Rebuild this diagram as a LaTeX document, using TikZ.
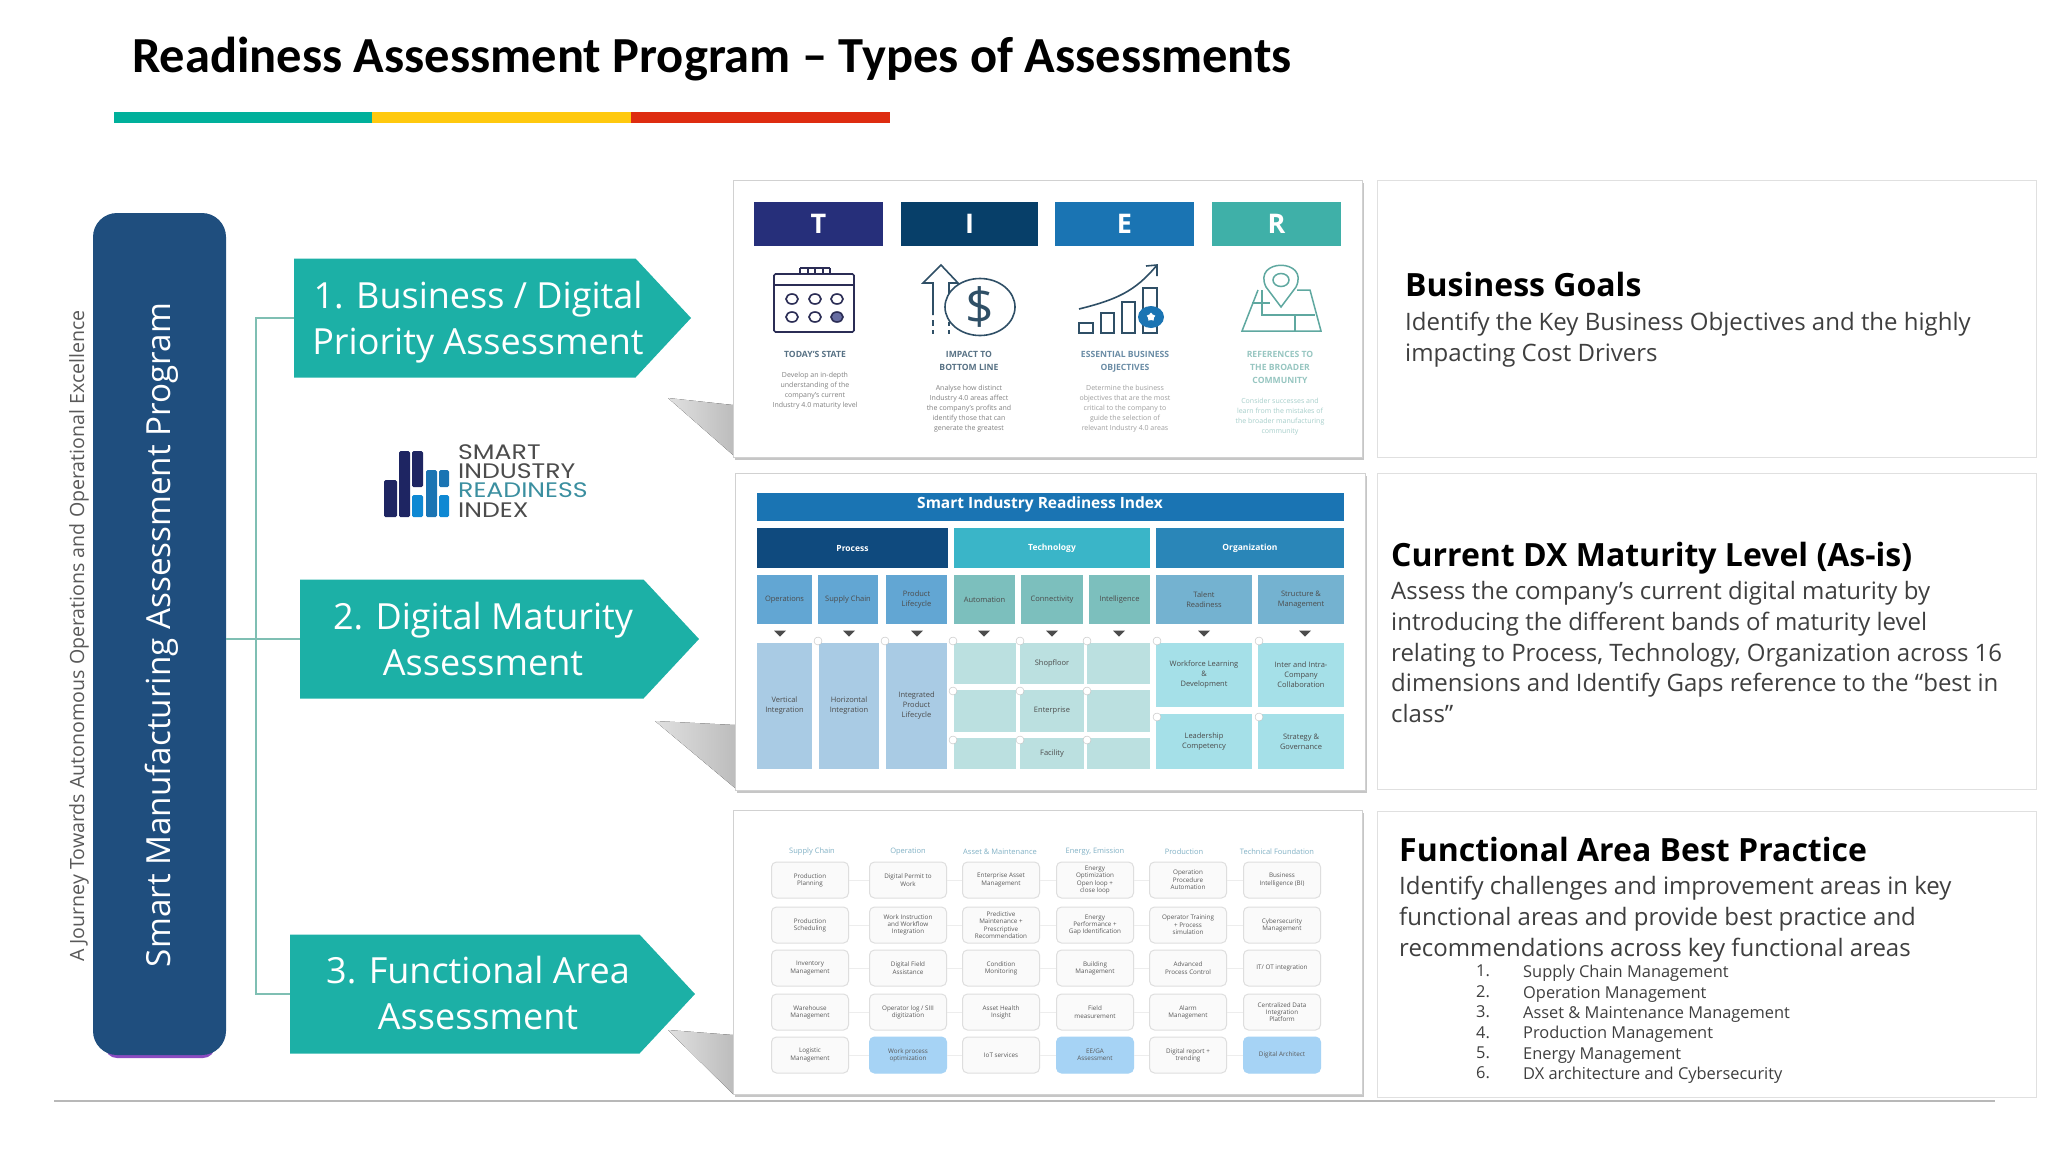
\documentclass[tikz,border=0pt]{standalone}
\usepackage{fontspec}
\setmainfont{Open Sans}
\newfontfamily\titlefont{Carlito}
\newfontfamily\logofont[FakeStretch=1.2]{Poppins}
\usetikzlibrary{shapes.symbols,shapes.geometric,shadows}

\definecolor{teala}{HTML}{1CB0A6}
\definecolor{linkgreen}{HTML}{7FBFB3}
\definecolor{navyprog}{HTML}{1F4E7E}
\definecolor{inkgray}{HTML}{3F3F3F}
\definecolor{tierT}{HTML}{262F7A}
\definecolor{tierI}{HTML}{073F69}
\definecolor{tierE}{HTML}{1A74B3}
\definecolor{tierR}{HTML}{3FB0A8}
\definecolor{iconnavy}{HTML}{2B2D55}
\definecolor{icondark}{HTML}{2F4F66}
\definecolor{iconteal}{HTML}{5FA8A0}
\definecolor{boxblue}{HTML}{A6D3F5}
\definecolor{barteal}{HTML}{00B09B}
\definecolor{baryellow}{HTML}{FFC90E}
\definecolor{barred}{HTML}{DE2C10}
\definecolor{headproc}{HTML}{0F4A7E}
\definecolor{headtech}{HTML}{3AB5C8}
\definecolor{headorg}{HTML}{2A86B8}
\definecolor{dimproc}{HTML}{62A6D3}
\definecolor{dimtech}{HTML}{7CBFBD}
\definecolor{dimorg}{HTML}{74B2D0}
\definecolor{lowproc}{HTML}{A9CBE4}
\definecolor{lowtech}{HTML}{BBE0E0}
\definecolor{loworg}{HTML}{A5E0E8}
\definecolor{logoteal}{HTML}{3B8FA0}

\tikzset{
    tile/.style 2 args={anchor=north west,inner sep=0pt,outer sep=0pt,minimum width=#1,minimum height=#2,align=center},
    panel/.style={fill=white,draw=black!18,line width=1pt,drop shadow={shadow xshift=1.5pt,shadow yshift=-2.5pt,opacity=0.45}},
    notepanel/.style={fill=white,draw=black!12,line width=1pt},
    wedge/.style={left color=black!12,right color=black!26,draw=none},
    assessarrow/.style={signal,signal to=east,signal pointer angle=94,fill=teala,anchor=west,inner sep=0pt,outer sep=0pt,minimum width=#1,minimum height=119pt},
    arrowtext/.style={text=white,inner sep=0pt,align=center,font=\fontsize{36}{46}\selectfont},
    linkline/.style={draw=linkgreen,line width=1.5pt},
    notehead/.style={anchor=north west,inner sep=0pt,font=\fontsize{32}{36}\selectfont\bfseries,text=black},
    notebody/.style={anchor=north west,inner sep=0pt,align=left,font=\fontsize{24}{30.8}\selectfont,text=inkgray},
    notelist/.style={anchor=north west,inner sep=0pt,align=left,font=\fontsize{16.4}{20.4}\selectfont,text=inkgray},
    tiercap/.style={anchor=north,inner sep=0pt,align=center,font=\fontsize{8.6}{13}\selectfont\bfseries},
    tiertxt/.style={anchor=north,inner sep=0pt,align=center,font=\fontsize{7}{10}\selectfont},
    tinydot/.style={circle,fill=white,draw=black!25,line width=0.4pt,minimum size=8pt,inner sep=0pt},
    downtri/.style={isosceles triangle,shape border rotate=-90,isosceles triangle apex angle=90,fill=black!70,inner sep=0pt,minimum width=12pt,minimum height=6pt},
    areatile/.style={rectangle,rounded corners=5pt,fill=black!2,draw=black!13,line width=1pt,minimum width=77pt,minimum height=36pt,inner sep=0pt,align=center,text=black!65,font=\fontsize{6.3}{7.3}\selectfont},
    areahead/.style={inner sep=0pt,text=cyan!60!black!60,font=\fontsize{7.5}{9}\selectfont},
    gridline/.style={draw=black!7,line width=1pt}
}

\begin{document}
\begin{tikzpicture}[x=1pt,y=-1pt]
            \useasboundingbox (0,0) rectangle (2048,1152);

            \node [anchor=west,inner sep=0pt,font=\titlefont\fontsize{50.5}{54}\selectfont\bfseries] (title) at (132,59) {Readiness Assessment Program – Types of Assessments};
            \fill [barteal] (114,112) rectangle (372,123);
            \fill [baryellow] (372,112) rectangle (631,123);
            \fill [barred] (631,112) rectangle (890,123);

            % left column
            \fill [violet!70!blue!70!white,rounded corners=12pt] (105,1030) rectangle (215,1058);
            \node [tile={133pt}{842pt},fill=navyprog,rounded corners=24pt] (prog) at (93,213) {};
            \node [rotate=90,text=white,font=\fontsize{33.2}{36}\selectfont,inner sep=0pt] (progtext) at (162,635) {Smart Manufacturing Assessment Program};
            \node [rotate=90,text=black!65,font=\fontsize{19.6}{21}\selectfont,inner sep=0pt] (journey) at (79,636) {A Journey Towards Autonomous Operations and Operational Excellence};

            \coordinate (trunk) at (256,639);
            \node [assessarrow=397pt] (arrow1) at (294,318) {};
            \node [assessarrow=399pt] (arrow2) at (300,639) {};
            \node [assessarrow=405pt] (arrow3) at (290,994) {};
            \node [arrowtext] (arrowtext1) at (478,322) {1. Business / Digital\\Priority Assessment};
            \node [arrowtext] (arrowtext2) at (483,639) {2. Digital Maturity\\Assessment};
            \node [arrowtext] (arrowtext3) at (478,993) {3. Functional Area\\Assessment};
            \draw [linkline] (prog.east |- arrow2.west) -- (arrow2.west);
            \draw [linkline] (arrow1.west) -| (trunk);
            \draw [linkline] (arrow3.west) -| (trunk);

            % logo
            \begin{scope}[rounded corners=1.5pt]
                \fill [tierT!80!black] (384,480) rectangle (397,517);
                \fill [tierT!80!black] (399,451) rectangle (410,517);
                \fill [tierT!80!black] (412,451) rectangle (423,487);
                \fill [cyan!70!blue] (412,495) rectangle (423,517);
                \fill [tierE] (426,470) rectangle (437,517);
                \fill [tierE] (439,470) rectangle (449,487);
                \fill [cyan!70!blue] (439,495) rectangle (449,517);
            \end{scope}
            \node [anchor=north west,inner sep=0pt,align=left,text=black!70,font=\logofont\fontsize{21}{19.4}\selectfont] (logo) at (458,444) {SMART\\INDUSTRY\\\textcolor{logoteal}{READINESS}\\INDEX};

            % gray wedges under the panels
            \fill [wedge] (668,398) -- (733,405) -- (733,455) -- cycle;
            \fill [wedge] (655,721) -- (735,725) -- (735,788) -- cycle;
            \fill [wedge] (668,1030) -- (733,1035) -- (733,1094) -- cycle;

            \node [tile={629pt}{277pt},panel] (panelA) at (733,180) {};
            \node [tile={630pt}{317pt},panel] (panelB) at (735,473) {};
            \node [tile={629pt}{284pt},panel] (panelC) at (733,810) {};
            \node [tile={659pt}{277pt},notepanel] (noteA) at (1377,180) {};
            \node [tile={659pt}{316pt},notepanel] (noteB) at (1377,473) {};
            \node [tile={659pt}{286pt},notepanel] (noteC) at (1377,811) {};

            % TIER panel
            \begin{scope}[every node/.style={text=white,font=\fontsize{27}{30}\selectfont\bfseries}]
                \node [tile={129pt}{44pt},fill=tierT] (boxT) at (754,202) {T};
                \node [tile={137pt}{44pt},fill=tierI] (boxI) at (901,202) {I};
                \node [tile={139pt}{44pt},fill=tierE] (boxE) at (1055,202) {E};
                \node [tile={129pt}{44pt},fill=tierR] (boxR) at (1212,202) {R};
            \end{scope}

            % calendar
            \begin{scope}[line width=1.6pt]
                \draw [iconnavy,rounded corners=1.5pt] (774,274) rectangle (854,332);
                \draw [iconnavy] (774,285) -- (854,285);
                \draw [iconnavy] (800,268) -- (830,268);
                \draw [iconnavy] (800,274) -- (800,268) (808,274) -- (808,268) (815,274) -- (815,268) (823,274) -- (823,268) (830,274) -- (830,268);
                \draw [iconnavy] (792,299) circle [x radius=6,y radius=5];
                \draw [iconnavy] (815,299) circle [x radius=6,y radius=5];
                \draw [iconnavy] (837,299) circle [x radius=6,y radius=5];
                \draw [iconnavy] (792,317) circle [x radius=6,y radius=5];
                \draw [iconnavy] (815,317) circle [x radius=6,y radius=5];
                \draw [iconnavy,fill=tierT!70!white] (837,317) circle [x radius=6,y radius=5];
            \end{scope}

            % dollar
            \draw [icondark,line width=1.6pt] (933,315) -- (933,283) -- (923,283) -- (941,265) -- (958,283) -- (949,283) -- (949,300);
            \draw [icondark,line width=1.6pt] (933,320) -- (933,326) (933,330) -- (933,334) (949,322) -- (949,326) (949,330) -- (949,334);
            \draw [icondark,line width=1.6pt,fill=white] (980,307) circle [x radius=35,y radius=28.5];
            \node [text=icondark,inner sep=0pt,font=\fontsize{50}{50}\selectfont] (dollar) at (980,307) {\$};

            % chart
            \begin{scope}[line width=1.6pt]
                \draw [icondark] (1079,323) rectangle (1093,333);
                \draw [icondark] (1101,313) rectangle (1114,333);
                \draw [icondark] (1122,302) rectangle (1135,333);
                \draw [icondark] (1143,288) rectangle (1157,333);
                \draw [icondark] (1079,309) .. controls (1115,300) and (1135,292) .. (1157,265);
                \draw [icondark] (1146,266) -- (1157,265) -- (1157,276);
                \fill [tierE] (1151,317) circle [x radius=13,y radius=11];
                \node [star,star points=5,fill=white,minimum size=9pt,inner sep=0pt] (badge) at (1151,317) {};
            \end{scope}

            % map
            \begin{scope}[line width=1.5pt]
                \draw [iconteal] (1258,290) -- (1242,331) -- (1321,331) -- (1310,290) -- (1297,290);
                \draw [iconteal] (1252,303) -- (1270,303) (1262,290) -- (1262,315) -- (1315,315) (1295,315) -- (1295,331);
                \draw [iconteal,fill=white] (1281,307) -- (1266,287) .. controls (1252,258) and (1310,258) .. (1296,287) -- cycle;
                \draw [iconteal] (1281,280) circle [x radius=8,y radius=6.5];
            \end{scope}

            \node [tiercap,text=icondark!80] (capT) at (815,351) {TODAY'S STATE};
            \node [tiertxt,text=black!50] (txtT) at (815,372) {Develop an in-depth\\understanding of the\\company's current\\Industry 4.0 maturity level};
            \node [tiercap,text=icondark!80] (capI) at (969,351) {IMPACT TO\\BOTTOM LINE};
            \node [tiertxt,text=black!50] (txtI) at (969,385) {Analyse how distinct\\Industry 4.0 areas affect\\the company's profits and\\identify those that can\\generate the greatest};
            \node [tiercap,text=tierI!60] (capE) at (1125,351) {ESSENTIAL BUSINESS\\OBJECTIVES};
            \node [tiertxt,text=black!38] (txtE) at (1125,385) {Determine the business\\objectives that are the most\\critical to the company to\\guide the selection of\\relevant Industry 4.0 areas};
            \node [tiercap,text=iconteal!65] (capR) at (1280,351) {REFERENCES TO\\THE BROADER\\COMMUNITY};
            \node [tiertxt,text=iconteal!55] (txtR) at (1280,398) {Consider successes and\\learn from the mistakes of\\the broader manufacturing\\community};

            % readiness index panel
            \begin{scope}[every node/.style={text=white,font=\fontsize{8.5}{10}\selectfont\bfseries}]
                \node [tile={587pt}{28pt},fill=tierE] (sirihead) at (757,493) {};
                \node [inner sep=0pt,font=\fontsize{15.5}{18}\selectfont\bfseries] (siritext) at (1040,504) {Smart Industry Readiness Index};
                \node [tile={191pt}{40pt},fill=headproc] (process) at (757,528) {Process};
                \node [tile={196pt}{40pt},fill=headtech] (techno) at (954,528) {Technology};
                \node [tile={188pt}{40pt},fill=headorg] (organ) at (1156,528) {Organization};
            \end{scope}
            \begin{scope}[every node/.style={text=black!70,font=\fontsize{7.5}{10}\selectfont}]
                \node [tile={55pt}{49pt},fill=dimproc] (ops) at (757,575) {Operations};
                \node [tile={60pt}{49pt},fill=dimproc] (supply) at (818,575) {Supply Chain};
                \node [tile={61pt}{49pt},fill=dimproc] (product) at (886,575) {Product\\Lifecycle};
                \node [tile={61pt}{49pt},fill=dimtech] (auto) at (954,575) {Automation};
                \node [tile={62pt}{49pt},fill=dimtech] (connect) at (1021,575) {Connectivity};
                \node [tile={61pt}{49pt},fill=dimtech] (intel) at (1089,575) {Intelligence};
                \node [tile={96pt}{49pt},fill=dimorg] (talent) at (1156,575) {Talent\\Readiness};
                \node [tile={86pt}{49pt},fill=dimorg] (struct) at (1258,575) {Structure \&\\Management};

                \node [tile={55pt}{126pt},fill=lowproc] (vert) at (757,643) {Vertical\\Integration};
                \node [tile={60pt}{126pt},fill=lowproc] (horiz) at (819,643) {Horizontal\\Integration};
                \node [tile={61pt}{126pt},fill=lowproc] (integ) at (886,643) {Integrated\\Product\\Lifecycle};

                \node [tile={62pt}{41pt},fill=lowtech] (shopA) at (954,643) {};
                \node [tile={64pt}{41pt},fill=lowtech] (shopB) at (1020,643) {Shopfloor};
                \node [tile={63pt}{41pt},fill=lowtech] (shopC) at (1087,643) {};
                \node [tile={62pt}{42pt},fill=lowtech] (entA) at (954,690) {};
                \node [tile={64pt}{42pt},fill=lowtech] (entB) at (1020,690) {Enterprise};
                \node [tile={63pt}{42pt},fill=lowtech] (entC) at (1087,690) {};
                \node [tile={62pt}{31pt},fill=lowtech] (facA) at (954,738) {};
                \node [tile={64pt}{31pt},fill=lowtech] (facB) at (1020,738) {Facility};
                \node [tile={63pt}{31pt},fill=lowtech] (facC) at (1087,738) {};

                \node [tile={96pt}{64pt},fill=loworg] (work) at (1156,643) {Workforce Learning\\\&\\Development};
                \node [tile={86pt}{64pt},fill=loworg] (inter) at (1258,643) {Inter and Intra-\\Company\\Collaboration};
                \node [tile={96pt}{55pt},fill=loworg] (lead) at (1156,714) {Leadership\\Competency};
                \node [tile={86pt}{55pt},fill=loworg] (strat) at (1258,714) {Strategy \&\\Governance};
            \end{scope}

            \node [downtri] (triA) at (780,633) {};
            \node [downtri] (triB) at (849,633) {};
            \node [downtri] (triC) at (917,633) {};
            \node [downtri] (triD) at (984,633) {};
            \node [downtri] (triE) at (1052,633) {};
            \node [downtri] (triF) at (1119,633) {};
            \node [downtri] (triG) at (1204,633) {};
            \node [downtri] (triH) at (1305,633) {};

            \node [tinydot] (dotA) at (818,641) {};
            \node [tinydot] (dotB) at (885,641) {};
            \node [tinydot] (dotC) at (953,641) {};
            \node [tinydot] (dotD) at (1020,641) {};
            \node [tinydot] (dotE) at (1087,641) {};
            \node [tinydot] (dotF) at (1157,641) {};
            \node [tinydot] (dotG) at (1259,641) {};
            \node [tinydot] (dotH) at (953,691) {};
            \node [tinydot] (dotI) at (1020,691) {};
            \node [tinydot] (dotJ) at (1087,691) {};
            \node [tinydot] (dotK) at (953,740) {};
            \node [tinydot] (dotL) at (1020,740) {};
            \node [tinydot] (dotM) at (1087,740) {};
            \node [tinydot] (dotN) at (1157,717) {};
            \node [tinydot] (dotO) at (1259,717) {};

            % functional areas panel
            \node [areahead] (headA) at (812,852) {Supply Chain};
            \node [areahead] (headB) at (908,852) {Operation};
            \node [areahead] (headC) at (1000,852) {Asset \& Maintenance};
            \node [areahead] (headD) at (1095,852) {Energy, Emission};
            \node [areahead] (headE) at (1184,852) {Production};
            \node [areahead] (headF) at (1277,852) {Technical Foundation};

            \node [areatile] (a1) at (810,880) {Production\\Planning};
            \node [areatile] (b1) at (908,880) {Digital Permit to\\Work};
            \node [areatile] (c1) at (1001,880) {Enterprise Asset\\Management};
            \node [areatile] (d1) at (1095,880) {Energy\\Optimization\\Open loop +\\close loop};
            \node [areatile] (e1) at (1188,880) {Operation\\Procedure\\Automation};
            \node [areatile] (f1) at (1282,880) {Business\\Intelligence (BI)};

            \node [areatile] (a2) at (810,925) {Production\\Scheduling};
            \node [areatile] (b2) at (908,925) {Work Instruction\\and Workflow\\Integration};
            \node [areatile] (c2) at (1001,925) {Predictive\\Maintenance +\\Prescriptive\\Recommendation};
            \node [areatile] (d2) at (1095,925) {Energy\\Performance +\\Gap Identification};
            \node [areatile] (e2) at (1188,925) {Operator Training\\+ Process\\simulation};
            \node [areatile] (f2) at (1282,925) {Cybersecurity\\Management};

            \node [areatile] (a3) at (810,968) {Inventory\\Management};
            \node [areatile] (b3) at (908,968) {Digital Field\\Assistance};
            \node [areatile] (c3) at (1001,968) {Condition\\Monitoring};
            \node [areatile] (d3) at (1095,968) {Building\\Management};
            \node [areatile] (e3) at (1188,968) {Advanced\\Process Control};
            \node [areatile] (f3) at (1282,968) {IT/ OT integration};

            \node [areatile] (a4) at (810,1012) {Warehouse\\Management};
            \node [areatile] (b4) at (908,1012) {Operator log / SIII\\digitization};
            \node [areatile] (c4) at (1001,1012) {Asset Health\\Insight};
            \node [areatile] (d4) at (1095,1012) {Field\\measurement};
            \node [areatile] (e4) at (1188,1012) {Alarm\\Management};
            \node [areatile] (f4) at (1282,1012) {Centralized Data\\Integration\\Platform};

            \node [areatile] (a5) at (810,1055) {Logistic\\Management};
            \node [areatile,fill=boxblue,draw=boxblue] (b5) at (908,1055) {Work process\\optimization};
            \node [areatile] (c5) at (1001,1055) {IoT services};
            \node [areatile,fill=boxblue,draw=boxblue] (d5) at (1095,1055) {EE/GA\\Assessment};
            \node [areatile] (e5) at (1188,1055) {Digital report +\\trending};
            \node [areatile,fill=boxblue,draw=boxblue] (f5) at (1282,1055) {Digital Architect};

            \path [gridline] (a1) -- (b1) (b1) -- (c1) (c1) -- (d1) (d1) -- (e1) (e1) -- (f1);
            \path [gridline] (a2) -- (b2) (b2) -- (c2) (c2) -- (d2) (d2) -- (e2) (e2) -- (f2);
            \path [gridline] (a3) -- (b3) (b3) -- (c3) (c3) -- (d3) (d3) -- (e3) (e3) -- (f3);
            \path [gridline] (a4) -- (b4) (b4) -- (c4) (c4) -- (d4) (d4) -- (e4) (e4) -- (f4);
            \path [gridline] (a5) -- (b5) (b5) -- (c5) (c5) -- (d5) (d5) -- (e5) (e5) -- (f5);

            % notes on the right
            \node [notehead] (goalhead) at (1405,272) {Business Goals};
            \node [notebody] (goalbody) at (1405,312) {Identify the Key Business Objectives and the highly\\impacting Cost Drivers};

            \node [notehead] (dxhead) at (1391,542) {Current DX Maturity Level (As-is)};
            \node [notebody] (dxbody) at (1391,581) {Assess the company's current digital maturity by\\introducing the different bands of maturity level\\relating to Process, Technology, Organization across 16\\dimensions and Identify Gaps reference to the “best in\\class”};

            \node [notehead] (fahead) at (1399,837) {Functional Area Best Practice};
            \node [notebody] (fabody) at (1399,876) {Identify challenges and improvement areas in key\\functional areas and provide best practice and\\recommendations across key functional areas};
            \node [notelist] (fanums) at (1476,965) {1.\\2.\\3.\\4.\\5.\\6.};
            \node [notelist] (falist) at (1523,965) {Supply Chain Management\\Operation Management\\Asset \& Maintenance Management\\Production Management\\Energy Management\\DX architecture and Cybersecurity};

            \draw [black!28,line width=1.5pt] (54,1101) -- (1995,1101);
\end{tikzpicture}
\end{document}
